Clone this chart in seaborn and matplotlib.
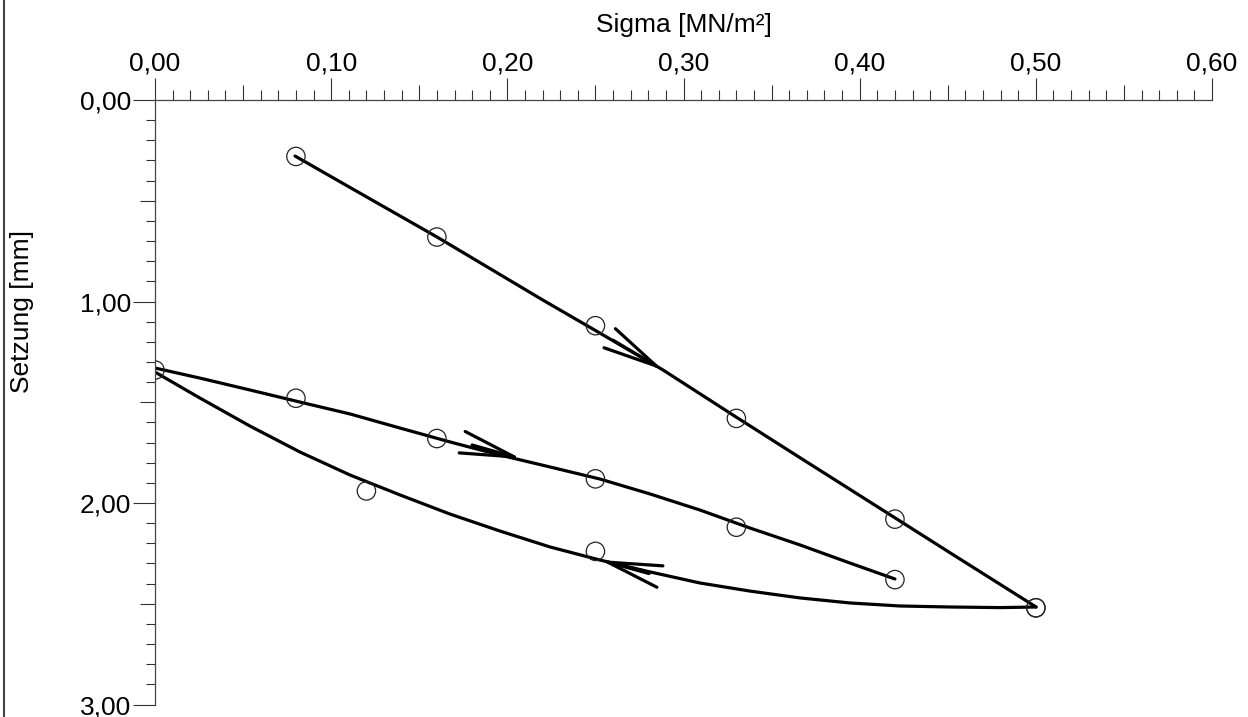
import numpy as np
import pandas as pd
import matplotlib
matplotlib.use("Agg")
import matplotlib.pyplot as plt
from matplotlib.ticker import MultipleLocator, FuncFormatter
from matplotlib.lines import Line2D
import seaborn as sns

# measured points (circles)
sigma_load = [0.08, 0.16, 0.25, 0.33, 0.42, 0.50]
setz_load = [0.28, 0.68, 1.12, 1.58, 2.08, 2.52]
sigma_unload = [0.50, 0.25, 0.12, 0.00]
setz_unload = [2.52, 2.24, 1.94, 1.34]
sigma_reload = [0.08, 0.16, 0.25, 0.33, 0.42]
setz_reload = [1.48, 1.68, 1.88, 2.12, 2.38]

# fitted curves
curve_load_x = [0.0795, 0.1107, 0.1601, 0.2202, 0.2526, 0.2884, 0.3298, 0.3661, 0.4201, 0.4513, 0.5001]
curve_load_y = [0.278, 0.434, 0.680, 0.993, 1.157, 1.340, 1.573, 1.775, 2.074, 2.247, 2.516]
curve_unload_x = [0.5001, 0.4797, 0.4513, 0.4229, 0.3945, 0.3661, 0.3377, 0.3094, 0.2810, 0.2526,
                  0.2242, 0.1958, 0.1675, 0.1391, 0.1107, 0.0823, 0.0539, 0.0255, 0.0]
curve_unload_y = [2.516, 2.519, 2.516, 2.511, 2.496, 2.471, 2.437, 2.397, 2.342, 2.283,
                  2.218, 2.139, 2.055, 1.960, 1.861, 1.747, 1.618, 1.479, 1.350]
curve_reload_x = [0.0, 0.0255, 0.0539, 0.0823, 0.1107, 0.1391, 0.1675, 0.1958,
                  0.2242, 0.2526, 0.2810, 0.3094, 0.3377, 0.3661, 0.3945, 0.4200]
curve_reload_y = [1.330, 1.380, 1.439, 1.499, 1.558, 1.628, 1.697, 1.762,
                  1.821, 1.881, 1.955, 2.035, 2.124, 2.208, 2.298, 2.377]

# direction arrows: tip and where they come from
arrow_tip_x = [0.2884, 0.2083, 0.2526]
arrow_tip_y = [1.340, 1.782, 2.283]
arrow_from_x = [0.260, 0.180, 0.2804]
arrow_from_y = [1.192, 1.712, 2.350]

sns.set_theme(style="white")
plt.rcParams["font.family"] = ["Liberation Sans", "DejaVu Sans"]
plt.rcParams["text.color"] = "black"
plt.rcParams["axes.labelcolor"] = "black"
plt.rcParams["xtick.labelcolor"] = "black"
plt.rcParams["ytick.labelcolor"] = "black"

fig, ax = plt.subplots(figsize=(12.48, 7.17), dpi=100)
fig.subplots_adjust(left=0.1242, right=0.9712, top=0.8605, bottom=0.0174)

line_kw = dict(color="black", linewidth=2.3, sort=False, estimator=None, ax=ax)
sns.lineplot(x=curve_load_x, y=curve_load_y, **line_kw)
sns.lineplot(x=curve_unload_x, y=curve_unload_y, **line_kw)
sns.lineplot(x=curve_reload_x, y=curve_reload_y, **line_kw)

pts = pd.DataFrame({
    "sigma": sigma_load + sigma_unload + sigma_reload,
    "setzung": setz_load + setz_unload + setz_reload,
})
sns.scatterplot(data=pts, x="sigma", y="setzung", marker="o", s=175,
                facecolors="none", edgecolors="#222222", linewidth=0.9, ax=ax, zorder=3)

for tx, ty, fx, fy in zip(arrow_tip_x, arrow_tip_y, arrow_from_x, arrow_from_y):
    ax.annotate("", xy=(tx, ty), xytext=(fx, fy),
                arrowprops=dict(arrowstyle="->,head_length=39,head_width=8",
                                mutation_scale=1, color="black", lw=2.3,
                                shrinkA=0, shrinkB=0))

ax.set_xlim(0, 0.6)
ax.set_ylim(3.0, 0.0)

fmt = FuncFormatter(lambda v, p: f"{v:.2f}".replace(".", ","))
ax.xaxis.tick_top()
ax.xaxis.set_label_position("top")
ax.xaxis.set_major_locator(MultipleLocator(0.1))
ax.xaxis.set_minor_locator(MultipleLocator(0.01))
ax.yaxis.set_major_locator(MultipleLocator(1.0))
ax.yaxis.set_minor_locator(MultipleLocator(0.1))
ax.xaxis.set_major_formatter(fmt)
ax.yaxis.set_major_formatter(fmt)

ax.tick_params(axis="x", which="both", top=True, bottom=False, direction="out",
               width=0.8, color="#333333")
ax.tick_params(axis="y", which="both", left=True, right=False, direction="out",
               width=0.8, color="#333333")
ax.tick_params(axis="x", which="major", length=16, labelsize=19, pad=2, labelcolor="black")
ax.tick_params(axis="x", which="minor", length=7)
ax.tick_params(axis="y", which="major", length=16, labelsize=19, pad=1, labelcolor="black")
ax.tick_params(axis="y", which="minor", length=6.5)

for side in ["right", "bottom"]:
    ax.spines[side].set_visible(False)
for side in ["top", "left"]:
    ax.spines[side].set_color("#444444")
    ax.spines[side].set_linewidth(0.9)

ax.set_xlabel("Sigma [MN/m²]", fontsize=19, labelpad=14, color="black")
ax.set_ylabel("Setzung [mm]", fontsize=19, color="black")
ax.yaxis.set_label_coords(-0.1145, 0.65)

# longer minor ticks at the half steps
fig.canvas.draw()
for t, loc in zip(ax.xaxis.get_minor_ticks(), ax.xaxis.get_minorticklocs()):
    if round(loc * 100) % 5 == 0:
        t.tick1line.set_markersize(11)
        t.tick2line.set_markersize(11)
for t, loc in zip(ax.yaxis.get_minor_ticks(), ax.yaxis.get_minorticklocs()):
    if round(loc * 10) % 5 == 0:
        t.tick1line.set_markersize(11)
        t.tick2line.set_markersize(11)

# frame line at the left edge
fig.add_artist(Line2D([0.0032, 0.0032], [0, 1], transform=fig.transFigure,
                      color="#444444", linewidth=1.5))

fig.savefig("out.png", dpi=100)
